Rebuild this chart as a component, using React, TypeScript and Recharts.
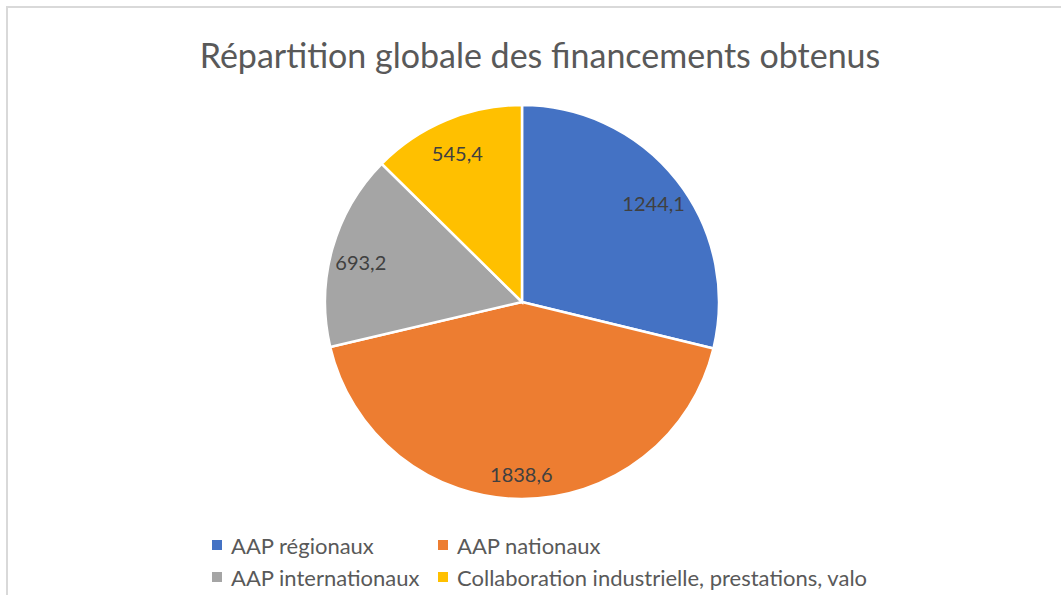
import React from "react";
import { PieChart, Pie, Cell } from "recharts";

const categories = [
  "AAP régionaux",
  "AAP nationaux",
  "AAP internationaux",
  "Collaboration industrielle, prestations, valo",
];
const values = [1244.1, 1838.6, 693.2, 545.4];
const colors = ["#4472C4", "#ED7D31", "#A5A5A5", "#FFC000"];

const data = categories.map((name, i) => ({ name, value: values[i] }));

const RAD = Math.PI / 180;
const FONT = "Lato, 'Open Sans', sans-serif";

const renderLabel = (props: any) => {
  const { cx, cy, midAngle, outerRadius, value } = props;
  const r = outerRadius * 0.85;
  const x = cx + r * Math.cos(-midAngle * RAD);
  const y = cy + r * Math.sin(-midAngle * RAD) + 5;
  return (
    <text
      x={x}
      y={y}
      fill="#404040"
      fontSize={20}
      fontFamily={FONT}
      textAnchor="middle"
      dominantBaseline="central"
    >
      {String(value).replace(".", ",")}
    </text>
  );
};

function LegendBlock() {
  const colX = [0, 226];
  return (
    <div
      style={{
        position: "absolute",
        left: 212,
        top: 532,
        width: 720,
        height: 64,
        fontFamily: FONT,
      }}
    >
      {categories.map((name, i) => {
        const ri = Math.floor(i / 2);
        const ci = i % 2;
        return (
          <div
            key={name}
            style={{
              position: "absolute",
              left: colX[ci],
              top: ri * 32,
              display: "flex",
              alignItems: "center",
              whiteSpace: "nowrap",
              height: 26,
            }}
          >
            <span
              style={{
                display: "inline-block",
                width: 10,
                height: 10,
                background: colors[i],
                marginRight: 9,
              }}
            />
            <span style={{ fontSize: 22, color: "#595959" }}>{name}</span>
          </div>
        );
      })}
    </div>
  );
}

export default function App() {
  return (
    <div
      style={{
        position: "absolute",
        left: 0,
        top: 0,
        width: 1061,
        height: 595,
        overflow: "hidden",
        background: "#fff",
      }}
    >
      <div
        style={{
          position: "absolute",
          left: 6,
          top: 6,
          width: 1100,
          height: 700,
          border: "2px solid #d9d9d9",
          boxSizing: "border-box",
        }}
      />
      <div
        style={{
          position: "absolute",
          left: 0,
          top: 32,
          width: 1080,
          textAlign: "center",
          fontFamily: FONT,
          fontSize: 34,
          color: "#595959",
          lineHeight: "46px",
        }}
      >
        Répartition globale des financements obtenus
      </div>
      <div style={{ position: "absolute", left: 0, top: 0 }}>
        <PieChart width={1061} height={595} margin={{ top: 0, right: 0, bottom: 0, left: 0 }}>
          <Pie
            data={data}
            dataKey="value"
            nameKey="name"
            cx={522}
            cy={302}
            outerRadius={197}
            startAngle={90}
            endAngle={-270}
            stroke="#ffffff"
            strokeWidth={2.5}
            label={renderLabel}
            labelLine={false}
            isAnimationActive={false}
          >
            {data.map((d, i) => (
              <Cell key={d.name} fill={colors[i]} />
            ))}
          </Pie>
        </PieChart>
      </div>
      <LegendBlock />
    </div>
  );
}
